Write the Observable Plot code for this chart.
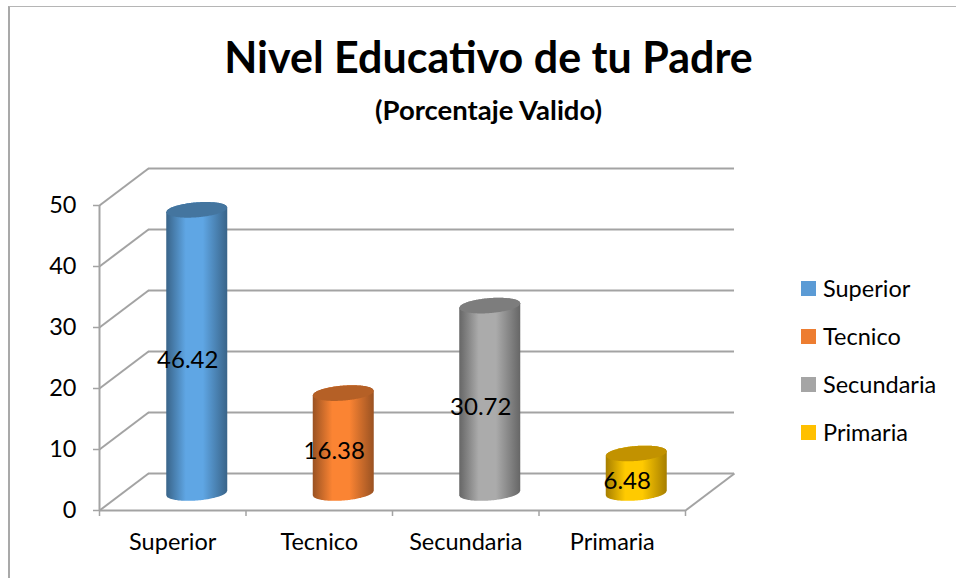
<!DOCTYPE html>
<html>
<head>
<meta charset="utf-8">
<script src="https://cdn.jsdelivr.net/npm/d3@7"></script>
<script src="https://cdn.jsdelivr.net/npm/@observablehq/plot@0.6"></script>
<style>
  html,body{margin:0;padding:0;background:#fff;overflow:hidden}
  #page{position:relative;width:956px;height:578px;font-family:Lato,"Open Sans",sans-serif;color:#000}
  #frame{position:absolute;left:8px;top:6px;right:0;bottom:0;border-left:2px solid #a9a9a9;border-top:1.5px solid #b5b5b5}
  #head{position:relative;height:150px;text-align:center}
  #title{position:absolute;left:0;width:977px;top:31px;font-size:43px;line-height:52px;font-weight:700}
  #subtitle{position:absolute;left:0;width:977px;top:92px;font-size:27.5px;line-height:36px;font-weight:700}
  #legend{position:absolute;left:801px;top:264px}
  .item{display:flex;align-items:center;height:48px;width:150px;font-size:23.5px;white-space:nowrap}
  .swatch{width:15px;height:15px;margin-right:7px;flex:none}
  svg{display:block}
</style>
</head>
<body>
<div id="page">
  <div id="frame"></div>
  <div id="head">
    <div id="title">Nivel Educativo de tu Padre</div>
    <div id="subtitle">(Porcentaje Valido)</div>
  </div>
  <div id="chart"></div>
  <div id="legend"></div>
</div>
<script>
const categories = ["Superior", "Tecnico", "Secundaria", "Primaria"];
const values = [46.42, 16.38, 30.72, 6.48];
const valueLabels = ["46.42", "16.38", "30.72", "6.48"];
const yTicks = [0, 10, 20, 30, 40, 50];
const legendColors = ["#5b9bd5", "#ed7d31", "#a5a5a5", "#ffc000"];
const capColors = ["#44759f", "#b56026", "#7d7d7d", "#c29200"];
const edgeColors = ["#396489", "#9a5222", "#666666", "#a67e00"];
const bodyColors = ["#5fa6e4", "#fb8433", "#ababab", "#ffca00"];

const pxX = 146.5, pxY = 6.1;               // pixels per data unit
const depthX = 49 / pxX, depthY = 37 / pxY; // depth of the 3D box, data units
const radX = 30.5 / pxX, radB = 7.5 / pxY, radK = 2.3 / pxY;
const us = d3.range(-30, 31).map(d => d / 30);
const arc = (u, s) => radK * u + s * radB * Math.sqrt(Math.max(0, 1 - u * u));

const bodies = [], caps = [];
categories.forEach((c, i) => {
  const cx = i + 0.5;
  bodies[i] = us.map(u => ({x: cx + u * radX, y1: arc(u, -1), y2: values[i] + arc(u, 1)}));
  caps[i] = us.map(u => ({x: cx + u * radX, y1: values[i] + arc(u, -1), y2: values[i] + arc(u, 1)}));
});

const gridStroke = "#a3a3a3";
const defs = () => {
  const ns = "http://www.w3.org/2000/svg";
  const d = document.createElementNS(ns, "defs");
  categories.forEach((c, i) => {
    const g = document.createElementNS(ns, "linearGradient");
    g.setAttribute("id", "cyl" + i);
    [[0, edgeColors[i]], [0.32, bodyColors[i]], [0.6, bodyColors[i]], [1, edgeColors[i]]].forEach(([o, col]) => {
      const s = document.createElementNS(ns, "stop");
      s.setAttribute("offset", o);
      s.setAttribute("stop-color", col);
      g.appendChild(s);
    });
    d.appendChild(g);
  });
  return d;
};

const depthOff = {dx: 24.5, dy: -17};
const chart = Plot.plot({
  width: 956,
  height: 428,
  marginLeft: 99, marginRight: 271, marginTop: 55, marginBottom: 68,
  style: {fontFamily: "Lato, 'Open Sans', sans-serif", fontSize: "23.5px", color: "#000", background: "transparent", overflow: "visible"},
  x: {type: "linear", domain: [0, 4], axis: null},
  y: {type: "linear", domain: [0, 50], axis: null},
  marks: [
    defs,
    // back wall gridlines
    Plot.ruleY(yTicks, {y: d => d + depthY, x1: depthX, x2: 4 + depthX, stroke: gridStroke, strokeWidth: 2}),
    // side wall diagonals
    Plot.link(yTicks, {x1: 0, y1: d => d, x2: depthX, y2: d => d + depthY, stroke: gridStroke, strokeWidth: 2}),
    // floor right edge and front edge, vertical axis
    Plot.link([0], {x1: 4, y1: 0, x2: 4 + depthX, y2: depthY, stroke: gridStroke, strokeWidth: 2}),
    Plot.ruleY([0], {x1: 0, x2: 4, stroke: gridStroke, strokeWidth: 2}),
    Plot.ruleX([0], {y1: 0, y2: 50, stroke: gridStroke, strokeWidth: 2}),
    // axes
    Plot.axisY({ticks: yTicks, tickSize: 6, tickPadding: 17, tickFormat: d => String(d), stroke: gridStroke, strokeWidth: 1.5, fontSize: 23.5, label: null, fill: "#000"}),
    Plot.axisX({ticks: [0, 1, 2, 3, 4], tickSize: 6, tickFormat: () => "", stroke: gridStroke, strokeWidth: 1.5, label: null}),
    Plot.axisX({ticks: categories.map((c, i) => i + 0.5), tickSize: 0, tickPadding: 23, tickFormat: d => categories[Math.floor(d)], fontSize: 23.5, label: null, fill: "#000"}),
    // cylinders
    ...categories.flatMap((c, i) => [
      Plot.area(bodies[i], {x1: "x", y1: "y1", y2: "y2", fill: `url(#cyl${i})`, curve: "linear", ...depthOff}),
      Plot.area(caps[i], {x1: "x", y1: "y1", y2: "y2", fill: capColors[i], curve: "linear", ...depthOff})
    ]),
    // value labels
    Plot.text(values, {x: (d, i) => i + 0.5, y: d => d / 2, text: (d, i) => valueLabels[i], dx: 15, dy: -9, fontSize: 24, fill: "#000"})
  ]
});
document.getElementById("chart").appendChild(chart);

const legend = document.getElementById("legend");
categories.forEach((c, i) => {
  const row = document.createElement("div");
  row.className = "item";
  const sw = document.createElement("span");
  sw.className = "swatch";
  sw.style.background = legendColors[i];
  const t = document.createElement("span");
  t.textContent = c;
  row.append(sw, t);
  legend.appendChild(row);
});
</script>
</body>
</html>
